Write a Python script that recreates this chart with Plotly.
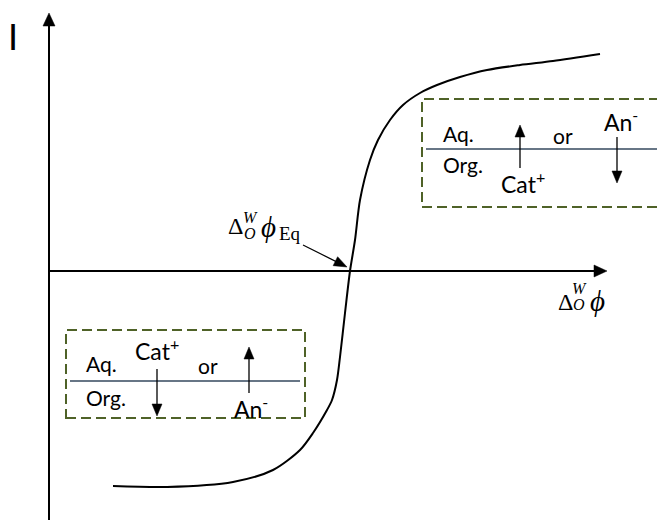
import plotly.graph_objects as go

# ---- data (arbitrary units: potential on x, current on y) ----
potential = [64, 118, 184, 224, 251, 264, 278, 283, 288, 291, 296, 301,
             306, 311, 321, 329, 341, 354, 371, 388, 411, 438, 471, 504, 551]
current = [-215, -216, -211, -199, -179, -162, -139, -129, -109, -86, -42, 0,
           31, 71, 111, 131, 151, 166, 178, 186, 194, 201, 206, 210, 217]

# axes of the sketch
axis_x_end = 558
axis_y_end = 258
axis_y_start = -249

# equilibrium-potential pointer (tail -> tip)
eq_tail = (254, 26)
eq_tip = (298, 4)

# ion-transfer boxes: (x0, x1, y0, y1), interface level
box_right = (373, 640, 64, 172)
iface_right = (377, 640, 122)
box_left = (17, 256, -147, -59)
iface_left = (21, 251, -110)

# arrows inside boxes: (x, y_tail, y_tip)
box_arrows = [(471, 103, 146), (568, 134, 88), (108, -98, -145), (200, -122, -76)]

BOX_COLOR = "#4f6228"
IFACE_COLOR = "#34495e"
TXT = "Lato"
SERIF = "Liberation Serif"

fig = go.Figure()

# sigmoid I-phi curve
fig.add_trace(go.Scatter(x=potential, y=current, mode="lines",
                         line=dict(color="black", width=2, shape="spline", smoothing=0.8),
                         hoverinfo="skip", showlegend=False))

shapes = []


def head(tip, direction, length, width, color="black"):
    dx, dy = direction
    n = (dx * dx + dy * dy) ** 0.5
    ux, uy = dx / n, dy / n
    px, py = -uy, ux
    bx, by = tip[0] - ux * length, tip[1] - uy * length
    p1 = (bx + px * width / 2, by + py * width / 2)
    p2 = (bx - px * width / 2, by - py * width / 2)
    path = f"M{tip[0]},{tip[1]} L{p1[0]},{p1[1]} L{p2[0]},{p2[1]} Z"
    return dict(type="path", path=path, xref="x", yref="y",
                fillcolor=color, line=dict(color=color, width=0.5))


# main axes
shapes.append(dict(type="line", x0=0, x1=0, y0=axis_y_start, y1=axis_y_end - 10,
                   line=dict(color="black", width=2)))
shapes.append(head((0, axis_y_end), (0, 1), 13, 12))
shapes.append(dict(type="line", x0=0, x1=axis_x_end - 10, y0=0, y1=0,
                   line=dict(color="black", width=2)))
shapes.append(head((axis_x_end, 0), (1, 0), 13, 12))

# equilibrium pointer
shapes.append(dict(type="line", x0=eq_tail[0], y0=eq_tail[1],
                   x1=eq_tip[0] - 0.8 * (eq_tip[0] - eq_tail[0]) / 4.5,
                   y1=eq_tip[1] - 0.8 * (eq_tip[1] - eq_tail[1]) / 4.5,
                   line=dict(color="black", width=1.2)))
shapes.append(head(eq_tip, (eq_tip[0] - eq_tail[0], eq_tip[1] - eq_tail[1]), 13, 10))

# dashed boxes and interfaces
for (x0, x1, y0, y1) in (box_right, box_left):
    shapes.append(dict(type="rect", x0=x0, x1=x1, y0=y0, y1=y1,
                       line=dict(color=BOX_COLOR, width=2, dash="10px,5px")))
for (x0, x1, y) in (iface_right, iface_left):
    shapes.append(dict(type="line", x0=x0, x1=x1, y0=y, y1=y,
                       line=dict(color=IFACE_COLOR, width=1.6)))

# transfer arrows
for (x, yt, yh) in box_arrows:
    sgn = 1 if yh > yt else -1
    shapes.append(dict(type="line", x0=x, x1=x, y0=yt, y1=yh - sgn * 8,
                       line=dict(color="black", width=1.3)))
    shapes.append(head((x, yh), (0, sgn), 12, 10))

ann = []


def txt(x, y, s, size, font=TXT, xanchor="center", color="black"):
    ann.append(dict(x=x, y=y, text=s, showarrow=False, xanchor=xanchor, yanchor="middle",
                    font=dict(family=font, size=size, color=color)))


# axis labels
txt(-36, 235, "I", 36)
txt(516, -31, "Δ", 24, SERIF)
txt(530, -17, "<i>W</i>", 16, SERIF)
txt(530, -33, "<i>O</i>", 16, SERIF)
txt(548, -30, "<i>ϕ</i>", 29, SERIF)

# equilibrium label
txt(186, 45, "Δ", 24, SERIF)
txt(201, 54, "<i>W</i>", 16, SERIF)
txt(201, 38, "<i>O</i>", 16, SERIF)
txt(219, 44, "<i>ϕ</i>", 29, SERIF)
txt(241, 38, "Eq", 19, SERIF)

# right box texts
txt(392, 138, "Aq.", 21, xanchor="left")
txt(392, 107, "Org.", 21, xanchor="left")
txt(514, 136, "or", 21)
txt(572, 151, "An<sup>-</sup>", 23)
txt(474, 89, "Cat<sup>+</sup>", 23)

# left box texts
txt(35, -92, "Aq.", 21, xanchor="left")
txt(35, -126, "Org.", 21, xanchor="left")
txt(108, -78, "Cat<sup>+</sup>", 23)
txt(159, -94, "or", 21)
txt(202, -136, "An<sup>-</sup>", 23)

fig.update_layout(
    width=657, height=520,
    margin=dict(l=0, r=0, t=0, b=0),
    paper_bgcolor="white", plot_bgcolor="white",
    xaxis=dict(range=[-49, 608], visible=False, fixedrange=True),
    yaxis=dict(range=[-249, 271], visible=False, fixedrange=True),
    shapes=shapes, annotations=ann, showlegend=False,
)

fig.write_html("out.html")
